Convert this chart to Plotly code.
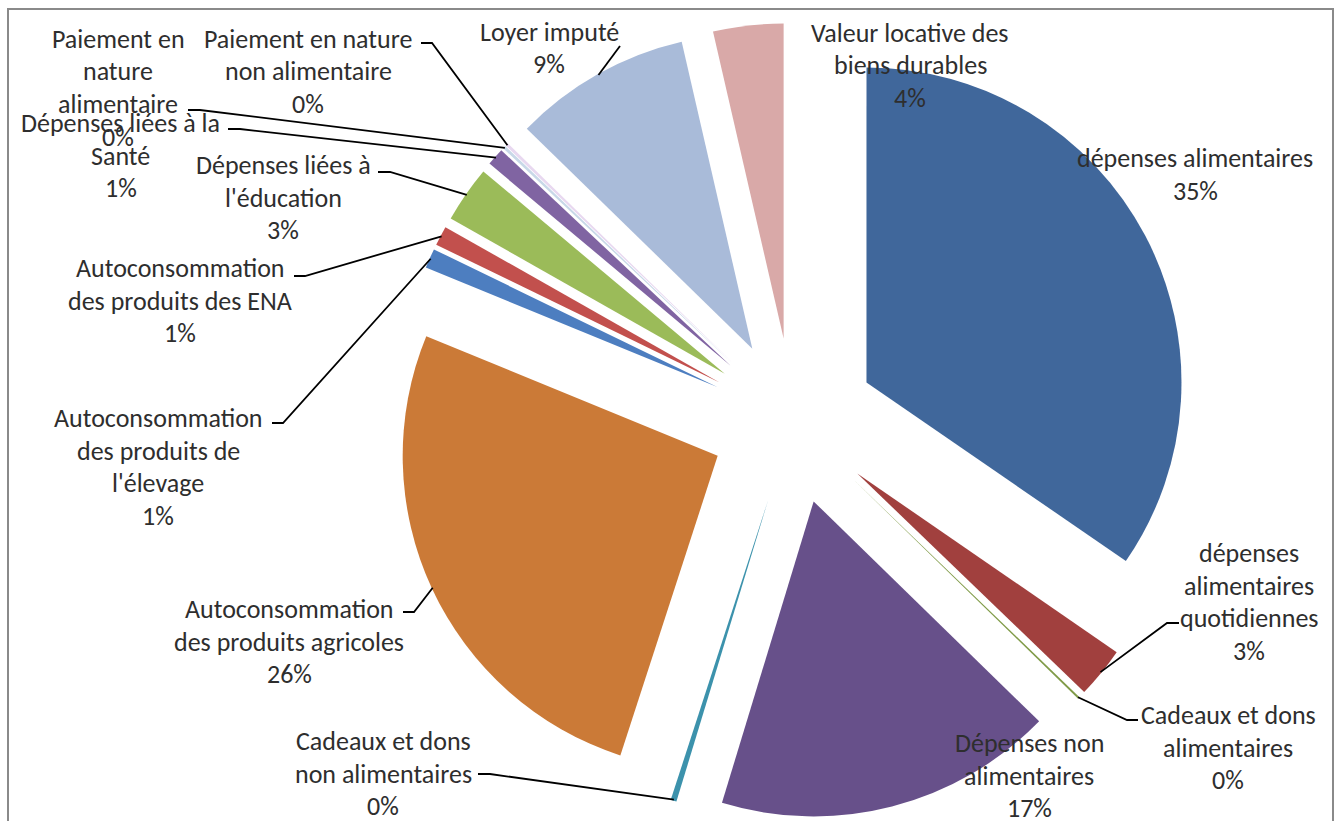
import math
import plotly.graph_objects as go

W, H = 1341, 821

# ---- data -------------------------------------------------------------
categories = [
    "dépenses alimentaires",
    "dépenses alimentaires quotidiennes",
    "Cadeaux et dons alimentaires",
    "Dépenses non alimentaires",
    "Cadeaux et dons non alimentaires",
    "Autoconsommation des produits agricoles",
    "Autoconsommation des produits de l'élevage",
    "Autoconsommation des produits des ENA",
    "Dépenses liées à l'éducation",
    "Dépenses liées à la Santé",
    "Paiement en nature alimentaire",
    "Paiement en nature non alimentaire",
    "Loyer imputé",
    "Valeur locative des biens durables",
]
shares = [34.6, 2.6, 0.1, 17.4, 0.3, 26.2, 1.0, 1.0, 2.9, 0.9, 0.15, 0.15, 9.1, 3.6]

# wrapped label lines (percentage line is added from the shares)
label_lines = [
    ["dépenses alimentaires"],
    ["dépenses", "alimentaires", "quotidiennes"],
    ["Cadeaux et dons", "alimentaires"],
    ["Dépenses non", "alimentaires"],
    ["Cadeaux et dons", "non alimentaires"],
    ["Autoconsommation", "des produits agricoles"],
    ["Autoconsommation", "des produits de", "l'élevage"],
    ["Autoconsommation", "des produits des ENA"],
    ["Dépenses liées à", "l'éducation"],
    ["Dépenses liées à la", "Santé"],
    ["Paiement en", "nature", "alimentaire"],
    ["Paiement en nature", "non alimentaire"],
    ["Loyer imputé"],
    ["Valeur locative des", "biens durables"],
]

# ---- styling / layout ---------------------------------------------------
colors = [
    "#40679B", "#A1403E", "#809B48", "#67508A", "#3C92AC", "#CB7A37",
    "#4D7EC0", "#C2504D", "#9BBB59", "#8064A2", "#C8D8E8", "#E8D8F0",
    "#A9BBD9", "#D9A9A8",
]

CX, CY = 793, 421          # pie centre (px)
OUTER = 398                # radius incl. explosion (px)
PULL = 0.2635              # explosion as a fraction of the slice radius

FONT = "Carlito, Lato, 'Open Sans', sans-serif"
FONT_SIZE = 26
PITCH = 32.5
TEXT_COLOR = "#2e2e2e"

# label block positions: centre x, first-line y (px)
label_pos = [
    (1195, 158), (1249, 553), (1228, 715), (1029, 743), (383, 741),
    (289, 609), (158, 418), (180, 268), (283, 165), (121, 123),
    (118, 39), (308, 39), (549, 32), (910, 33),
]

# leader line tails (label side), px; None = no leader line
leader_tail = [
    None,
    [(1167, 623), (1179, 623)],
    [(1127, 720), (1138, 720)],
    None,
    [(490, 774), (478, 774)],
    [(414, 612), (403, 612)],
    [(283, 423), (272, 423)],
    [(305, 276), (294, 276)],
    [(390, 172), (378, 172)],
    [(240, 129), (228, 129)],
    [(200, 110), (188, 110)],
    [(432, 43), (421, 43)],
    [(620, 46)],
    None,
]


def px(x, y):
    return x / W, 1 - y / H


total = sum(shares)
pct = [f"{round(v / total * 100 + 1e-9):.0f}%" for v in shares]

fig = go.Figure()

x0, y1 = px(CX - OUTER, CY - OUTER)
x1, y0 = px(CX + OUTER, CY + OUTER)
fig.add_trace(go.Pie(
    labels=categories,
    values=shares,
    sort=False,
    direction="clockwise",
    rotation=0,
    pull=PULL,
    marker=dict(colors=colors, line=dict(width=0)),
    textinfo="none",
    hoverinfo="label+percent",
    showlegend=False,
    domain=dict(x=[x0, x1], y=[max(y0, 0), min(y1, 1)]),
))

# leader lines: from the outer arc midpoint of each exploded slice to its label
shapes = []
cum = 0.0
for i, v in enumerate(shares):
    mid = (cum + v / 2) / total * 2 * math.pi
    cum += v
    tail = leader_tail[i]
    if tail is None:
        continue
    ax = CX + (OUTER - 1) * math.sin(mid)
    ay = CY - (OUTER - 1) * math.cos(mid)
    pts = [px(ax, ay)] + [px(x, y) for x, y in tail]
    path = "M " + " L ".join(f"{x:.5f},{y:.5f}" for x, y in pts)
    shapes.append(dict(type="path", xref="paper", yref="paper", path=path,
                       line=dict(color="#000000", width=1.8)))

# chart frame
fx0, fy1 = px(8, 9)
fx1, fy0 = px(1333, H + 20)
shapes.append(dict(type="rect", xref="paper", yref="paper",
                   x0=fx0, x1=fx1, y0=fy0, y1=fy1,
                   line=dict(color="#8a8a8a", width=2), layer="below"))

annotations = []
for lines, p, (lx, ly) in zip(label_lines, pct, label_pos):
    for k, t in enumerate(lines + [p]):
        ax_, ay_ = px(lx, ly + k * PITCH)
        annotations.append(dict(
            x=ax_, y=ay_, xref="paper", yref="paper", text=t,
            showarrow=False, xanchor="center", yanchor="middle",
            font=dict(family=FONT, size=FONT_SIZE, color=TEXT_COLOR),
        ))

fig.update_layout(
    width=W, height=H,
    margin=dict(l=0, r=0, t=0, b=0),
    paper_bgcolor="white",
    plot_bgcolor="white",
    shapes=shapes,
    annotations=annotations,
)

fig.write_html("out.html")
